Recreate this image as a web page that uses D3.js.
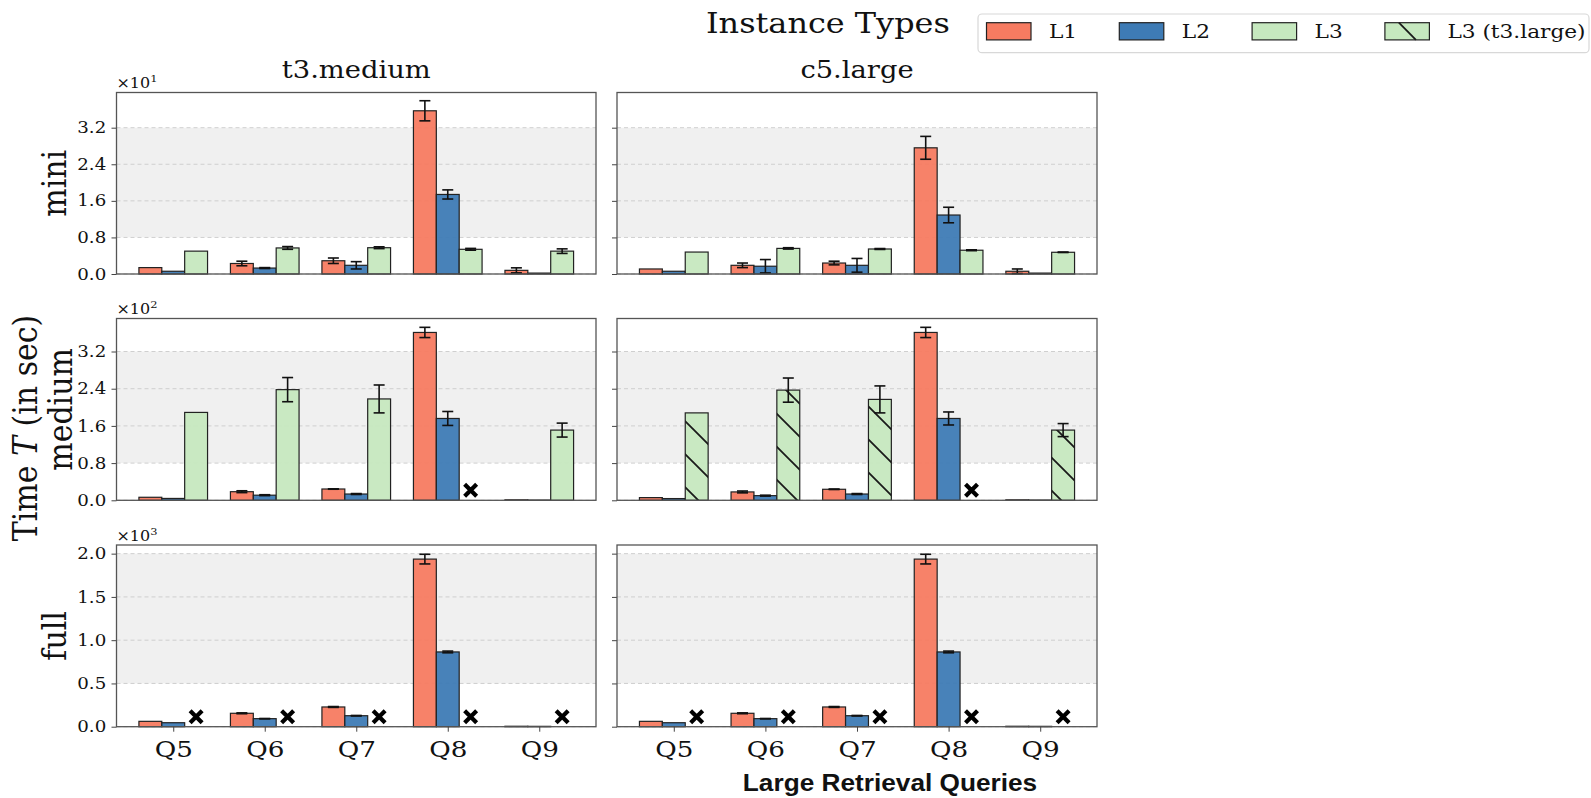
<!DOCTYPE html>
<html>
<head>
<meta charset="utf-8">
<script src="https://cdn.jsdelivr.net/npm/d3@7"></script>
<style>
  body { margin: 0; background: #fff; }
  svg { display: block; }
  text { font-family: "DejaVu Serif", serif; fill: #111; }
</style>
</head>
<body>
<div id="chart"></div>
<script>
var queries = ["Q5", "Q6", "Q7", "Q8", "Q9"];
var series = ["L1", "L2", "L3"];
var legendLabels = ["L1", "L2", "L3", "L3 (t3.large)"];
var instances = ["t3.medium", "c5.large"];
var datasets = ["mini", "medium", "full"];
var exponents = ["1", "2", "3"];
var yMax = [3.97, 3.91, 2.10];
var yTicks = [[0, 0.8, 1.6, 2.4, 3.2], [0, 0.8, 1.6, 2.4, 3.2], [0, 0.5, 1.0, 1.5, 2.0]];

// mean time per query, in units of 10^exponent sec; null = not run (x marker)
var miniT3    = [[0.14, 0.23, 0.29, 3.57, 0.08], [0.06, 0.13, 0.19, 1.74, 0.02], [0.50, 0.57, 0.575, 0.54, 0.50]];
var miniT3Err = [[0, 0.05, 0.06, 0.22, 0.055], [0, 0.01, 0.08, 0.10, 0], [0, 0.03, 0.02, 0.02, 0.05]];
var miniC5    = [[0.11, 0.19, 0.24, 2.76, 0.06], [0.06, 0.17, 0.19, 1.29, 0.02], [0.48, 0.56, 0.547, 0.52, 0.475]];
var miniC5Err = [[0, 0.05, 0.04, 0.25, 0.05], [0, 0.146, 0.15, 0.17, 0], [0, 0.015, 0.01, 0.01, 0.005]];
var mediumT3    = [[0.065, 0.185, 0.243, 3.61, 0.01], [0.04, 0.11, 0.135, 1.76, 0.005], [1.89, 2.38, 2.18, null, 1.51]];
var mediumT3Err = [[0, 0.02, 0.005, 0.11, 0], [0, 0.01, 0.01, 0.15, 0], [0, 0.26, 0.30, 0, 0.15]];
var mediumC5    = [[0.058, 0.18, 0.237, 3.61, 0.01], [0.037, 0.10, 0.135, 1.76, 0.005], [1.88, 2.37, 2.17, null, 1.51]];
var mediumC5Err = [[0, 0.02, 0.005, 0.11, 0], [0, 0.01, 0.01, 0.14, 0], [0, 0.26, 0.29, 0, 0.14]];
var fullT3    = [[0.062, 0.155, 0.228, 1.937, 0.005], [0.046, 0.093, 0.127, 0.864, 0.004], [null, null, null, null, null]];
var fullT3Err = [[0, 0.005, 0.005, 0.056, 0], [0, 0.002, 0.003, 0.01, 0], [0, 0, 0, 0, 0]];
var fullC5    = [[0.062, 0.155, 0.228, 1.937, 0.005], [0.046, 0.093, 0.127, 0.864, 0.004], [null, null, null, null, null]];
var fullC5Err = [[0, 0.005, 0.005, 0.056, 0], [0, 0.002, 0.003, 0.01, 0], [0, 0, 0, 0, 0]];

// the medium / c5.large L3 bars were run on t3.large
var hatchedRow = "medium", hatchedCol = "c5.large";

var cells = [
  {row: 0, col: 0, vals: miniT3, errs: miniT3Err},
  {row: 0, col: 1, vals: miniC5, errs: miniC5Err},
  {row: 1, col: 0, vals: mediumT3, errs: mediumT3Err},
  {row: 1, col: 1, vals: mediumC5, errs: mediumC5Err},
  {row: 2, col: 0, vals: fullT3, errs: fullT3Err},
  {row: 2, col: 1, vals: fullC5, errs: fullC5Err}
];

var colors = ["#f77b61", "#3e7bb5", "#c6e8bf"];
var colX = [[116.5, 596], [617, 1097]];
var rowY = [[92.5, 274], [318.5, 500.3], [545, 726.7]];
var xDomain = [-0.62, 4.62];
var barW = 0.25;
var SX = 1.14; // the source figure is slightly stretched sideways

var svg = d3.select("#chart").append("svg")
    .attr("width", 1591)
    .attr("height", 798);

svg.append("rect").attr("width", 1591).attr("height", 798).attr("fill", "#fff");

var pat = svg.append("defs").append("pattern")
    .attr("id", "hatch")
    .attr("patternUnits", "userSpaceOnUse")
    .attr("width", 33)
    .attr("height", 33);
pat.append("path")
    .attr("d", "M-3,-3L36,36M-3,30L3,36M30,-3L36,3")
    .attr("stroke", "#1a1a1a")
    .attr("stroke-width", 1.8);

function label(parent, x, y, str, size, anchor, rot) {
  return parent.append("text")
      .attr("transform", "translate(" + x + "," + y + ") scale(" + SX + ",1)" + (rot ? " rotate(" + rot + ")" : ""))
      .attr("text-anchor", anchor || "start")
      .style("font-size", size + "px")
      .text(str);
}

cells.forEach(function(c) {
  var x = d3.scaleLinear().domain(xDomain).range(colX[c.col]);
  var y = d3.scaleLinear().domain([0, yMax[c.row]]).range([rowY[c.row][1], rowY[c.row][0]]);
  var ticks = yTicks[c.row];
  var x0 = x.range()[0], x1 = x.range()[1];
  var hatched = datasets[c.row] === hatchedRow && instances[c.col] === hatchedCol;
  var g = svg.append("g");

  g.append("rect")
      .attr("x", x0)
      .attr("width", x1 - x0)
      .attr("y", y(ticks[ticks.length - 1]))
      .attr("height", y(ticks[1]) - y(ticks[ticks.length - 1]))
      .attr("fill", "#f0f0f0");

  g.selectAll(".grid")
      .data(ticks)
    .enter().append("line")
      .attr("x1", x0).attr("x2", x1)
      .attr("y1", function(d) { return y(d); })
      .attr("y2", function(d) { return y(d); })
      .attr("stroke", "#cfcfcf")
      .attr("stroke-width", 1)
      .attr("stroke-dasharray", "4,3");

  var yAxis = g.append("g")
      .attr("transform", "translate(" + x0 + ",0)")
      .call(d3.axisLeft(y).tickValues(ticks).tickSize(5).tickPadding(4)
        .tickFormat(c.col === 0 ? d3.format(".1f") : function() { return ""; }));
  yAxis.select(".domain").remove();
  yAxis.selectAll("line").attr("stroke", "#444");
  yAxis.selectAll("text")
      .attr("transform", "scale(" + SX + ",1)")
      .style("font-family", "DejaVu Serif")
      .style("font-size", "16px")
      .attr("fill", "#111");

  var barData = [];
  c.vals.forEach(function(arr, si) {
    arr.forEach(function(v, qi) {
      barData.push({s: si, q: qi, v: v, e: c.errs[si][qi]});
    });
  });
  var done = barData.filter(function(d) { return d.v !== null; });
  var missing = barData.filter(function(d) { return d.v === null; });

  g.selectAll(".bar")
      .data(done)
    .enter().append("rect")
      .attr("class", "bar")
      .attr("x", function(d) { return x(d.q + (d.s - 1) * barW - barW / 2); })
      .attr("width", x(barW) - x(0))
      .attr("y", function(d) { return y(d.v); })
      .attr("height", function(d) { return y(0) - y(d.v); })
      .attr("fill", function(d) { return colors[d.s]; })
      .attr("fill-opacity", 0.95)
      .attr("stroke", "#222")
      .attr("stroke-width", 1.2);

  if (hatched) {
    g.selectAll(".hatch")
        .data(done.filter(function(d) { return d.s === 2; }))
      .enter().append("rect")
        .attr("x", function(d) { return x(d.q + barW / 2); })
        .attr("width", x(barW) - x(0))
        .attr("y", function(d) { return y(d.v); })
        .attr("height", function(d) { return y(0) - y(d.v); })
        .attr("fill", "url(#hatch)")
        .attr("stroke", "none");
  }

  var errs = g.selectAll(".err")
      .data(done.filter(function(d) { return d.e > 0; }))
    .enter().append("g")
      .attr("stroke", "#111")
      .attr("stroke-width", 1.6);
  errs.append("line")
      .attr("x1", function(d) { return x(d.q + (d.s - 1) * barW); })
      .attr("x2", function(d) { return x(d.q + (d.s - 1) * barW); })
      .attr("y1", function(d) { return y(d.v - d.e); })
      .attr("y2", function(d) { return y(d.v + d.e); });
  [-1, 1].forEach(function(sign) {
    errs.append("line")
        .attr("x1", function(d) { return x(d.q + (d.s - 1) * barW) - 5.5; })
        .attr("x2", function(d) { return x(d.q + (d.s - 1) * barW) + 5.5; })
        .attr("y1", function(d) { return y(d.v + sign * d.e); })
        .attr("y2", function(d) { return y(d.v + sign * d.e); });
  });

  g.selectAll(".miss")
      .data(missing)
    .enter().append("path")
      .attr("transform", function(d) {
        return "translate(" + x(d.q + (d.s - 1) * barW) + "," + y(0.055 * yMax[c.row]) + ")";
      })
      .attr("d", "M-6,-6L6,6M-6,6L6,-6")
      .attr("stroke", "#000")
      .attr("stroke-width", 4.2);

  g.append("rect")
      .attr("x", x0).attr("y", rowY[c.row][0])
      .attr("width", x1 - x0).attr("height", rowY[c.row][1] - rowY[c.row][0])
      .attr("fill", "none")
      .attr("stroke", "#555")
      .attr("stroke-width", 1.3);

  if (c.col === 0) {
    var ex = label(g, x0, rowY[c.row][0] - 4.5, "\u00d710", 14);
    ex.append("tspan").attr("dy", -6).style("font-size", "10px").text(exponents[c.row]);
  }

  if (c.row === datasets.length - 1) {
    var xAxis = g.append("g")
        .attr("transform", "translate(0," + rowY[c.row][1] + ")")
        .call(d3.axisBottom(x).tickValues(d3.range(queries.length)).tickSize(5)
          .tickFormat(function(i) { return queries[i]; }));
    xAxis.select(".domain").remove();
    xAxis.selectAll("line").attr("stroke", "#444");
    xAxis.selectAll("text")
        .attr("y", 30.5).attr("dy", 0)
        .attr("transform", "scale(" + SX + ",1)")
        .attr("x", 0)
        .style("font-family", "DejaVu Serif")
        .style("font-size", "23px")
        .attr("fill", "#111");
  }
});

// panel titles
instances.forEach(function(name, i) {
  label(svg, (colX[i][0] + colX[i][1]) / 2, 78.3, name, 24, "middle");
});

// row labels
var rowLabelX = [66, 72, 66];
datasets.forEach(function(name, i) {
  label(svg, rowLabelX[i], (rowY[i][0] + rowY[i][1]) / 2, name, 30, "middle", -90);
});

var tl = label(svg, 37, 428, "Time ", 30, "middle", -90);
tl.append("tspan").style("font-style", "italic").text("T");
tl.append("tspan").text(" (in sec)");

label(svg, 706, 33.3, "Instance Types", 28);

// legend
var leg = svg.append("g");
leg.append("rect")
    .attr("x", 978).attr("y", 14)
    .attr("width", 611).attr("height", 38.7)
    .attr("rx", 4)
    .attr("fill", "#fff")
    .attr("stroke", "#d8d8d8")
    .attr("stroke-width", 1.2);

var items = leg.selectAll(".item")
    .data(legendLabels)
  .enter().append("g")
    .attr("transform", function(d, i) { return "translate(" + (986.5 + i * 132.8) + ",0)"; });
items.append("rect")
    .attr("y", 22.7)
    .attr("width", 44.5)
    .attr("height", 17.2)
    .attr("fill", function(d, i) { return colors[Math.min(i, 2)]; })
    .attr("stroke", "#222")
    .attr("stroke-width", 1.2);
items.filter(function(d, i) { return i === 3; }).append("path")
    .attr("d", "M14,22.7L31,39.9")
    .attr("stroke", "#1a1a1a")
    .attr("stroke-width", 1.8);
items.each(function(d) {
  label(d3.select(this), 62.5, 38.3, d, 19);
});

svg.append("text")
    .attr("transform", "translate(890,791) scale(" + SX + ",1)")
    .attr("text-anchor", "middle")
    .style("font-family", "'Liberation Sans', Arial, sans-serif")
    .style("font-weight", "bold")
    .style("font-size", "23px")
    .attr("fill", "#666")
    .text("Large Retrieval Queries");
</script>
</body>
</html>
